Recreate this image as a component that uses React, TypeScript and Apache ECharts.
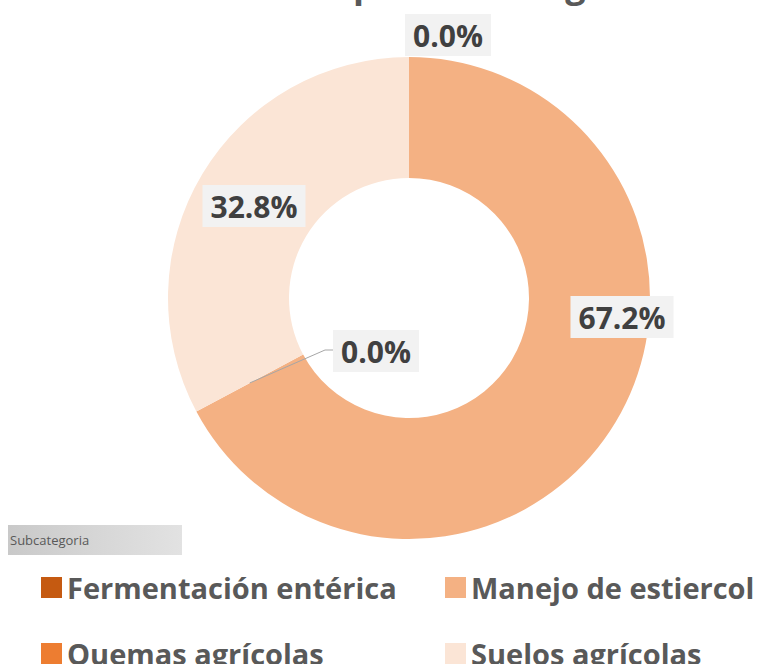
import React, { useEffect, useRef } from "react";
import * as echarts from "echarts";

const categories = ["Fermentación entérica", "Manejo de estiercol", "Quemas agrícolas", "Suelos agrícolas"];
const values = [0, 67.2, 0, 32.8];
const colors = ["#c55a11", "#f4b183", "#ed7d31", "#fbe5d6"];
const titleText = "Emisiones por subcategoría";
const fieldButton = "Subcategoria";

// layout only
const CX = 409;
const CY = 298;
const R0 = 120;
const R1 = 241;
const labelPos: [number, number][] = [
  [448, 35],
  [622, 317],
  [376, 351],
  [254, 206],
];
const legendPos: [number, number][] = [
  [36, 568],
  [440, 568],
  [36, 634],
  [440, 634],
];

export default function App() {
  const ref = useRef<HTMLDivElement>(null);
  useEffect(() => {
    if (!ref.current) return;
    const chart = echarts.init(ref.current, null, { renderer: "svg" });
    const font = "Open Sans";
    const total = values.reduce((a, b) => a + b, 0);
    // mid angle of "Quemas agrícolas" slice, for its leader line
    const before = values.slice(0, 2).reduce((a, b) => a + b, 0);
    const midFrac = (before + values[2] / 2) / total;
    const ang = midFrac * Math.PI * 2;
    const rm = (R0 + R1) / 2;
    const sx = CX + rm * Math.sin(ang);
    const sy = CY - rm * Math.cos(ang);
    const qx = labelPos[2][0] - 43;
    const qy = labelPos[2][1] - 1;

    chart.setOption({
      animation: false,
      backgroundColor: "#ffffff",
      graphic: [
        {
          type: "text",
          x: 410,
          y: -17,
          style: {
            text: titleText,
            font: `bold 36px "${font}"`,
            fill: "#595959",
            align: "center",
            verticalAlign: "middle",
          },
        },
        {
          type: "rect",
          shape: { x: 8, y: 525, width: 174, height: 30 },
          style: {
            fill: new echarts.graphic.LinearGradient(0, 0, 1, 0, [
              { offset: 0, color: "#c9c9c9" },
              { offset: 0.5, color: "#d6d6d6" },
              { offset: 1, color: "#e2e2e2" },
            ]),
          },
        },
        {
          type: "text",
          x: 10,
          y: 540,
          style: {
            text: fieldButton,
            font: `13px "${font}"`,
            fill: "#595959",
            verticalAlign: "middle",
          },
        },
        {
          type: "polyline",
          z: 10,
          shape: { points: [[sx, sy], [qx - 8, qy], [qx, qy]] },
          style: { stroke: "#a6a6a6", lineWidth: 1, fill: "none" },
        },
      ],
      legend: categories.map((name, i) => ({
        orient: "horizontal",
        left: legendPos[i][0],
        top: legendPos[i][1],
        itemWidth: 21,
        itemHeight: 21,
        itemGap: 8,
        icon: "rect",
        data: [name],
        textStyle: { fontFamily: font, fontWeight: "bold", fontSize: 29, color: "#595959" },
      })),
      series: [
        {
          type: "pie",
          center: [CX, CY],
          radius: [R0, R1],
          startAngle: 90,
          clockwise: true,
          minAngle: 0,
          avoidLabelOverlap: false,
          color: colors,
          itemStyle: { borderWidth: 0 },
          label: {
            show: true,
            position: "outside",
            formatter: (p: any) => p.percent.toFixed(1) + "%",
            fontFamily: font,
            fontWeight: "bold",
            fontSize: 30,
            color: "#404040",
            backgroundColor: "#f2f2f2",
            padding: [7, 8, 5, 8],
          },
          labelLine: { show: false },
          labelLayout: (params: any) => {
            const [x, y] = labelPos[params.dataIndex];
            return { x, y, align: "center", verticalAlign: "middle" };
          },
          data: categories.map((name, i) => ({ name, value: values[i] })),
        },
      ],
    });
    return () => chart.dispose();
  }, []);
  return <div ref={ref} style={{ position: "fixed", left: 0, top: 0, width: 762, height: 664 }} />;
}
